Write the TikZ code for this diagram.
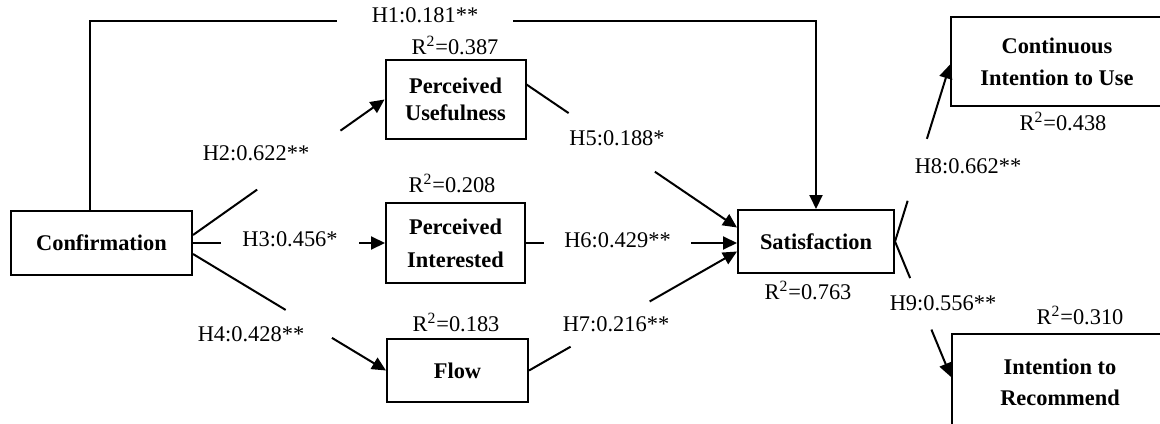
\documentclass[tikz,border=0pt]{standalone}
\usepackage{fontspec}
\setmainfont{Liberation Serif}
\usetikzlibrary{arrows.meta, calc, positioning}
\tikzstyle{arrow} = [line width=1pt, -{Triangle[length=7pt, width=6.5pt]}]
\tikzstyle{construct} = [rectangle, draw = black, line width=1pt, inner sep=0pt, align=center, font=\fontsize{11.2}{13}\selectfont\bfseries]
\tikzstyle{coef} = [inner sep=1pt, font=\fontsize{11.2}{13}\selectfont]
\tikzstyle{gap} = [coef, fill=white, inner ysep=2pt]
\tikzstyle{rsq} = [inner sep=1pt, font=\fontsize{11.2}{13}\selectfont]

\begin{document}
\begin{tikzpicture}[x=0.5pt, y=-0.5pt]
\useasboundingbox (0,0) rectangle (1160,423);

% Confirmation construct:
\node(conf)[construct, minimum width=90.5pt, minimum height=32pt] at (101.5,243) {Confirmation};

% Perceived constructs and Flow:
\node(pi)[construct, right of=conf, node distance=177pt, minimum width=69.5pt, minimum height=40pt]
{Perceived\\[3.5pt]Interested};
\node(pu)[construct, above of=pi, node distance=71.75pt, minimum width=70pt, minimum height=39.5pt]
{Perceived\\[0.5pt]Usefulness};
\node(flow)[construct, below of=pi, node distance=63.75pt, xshift=1pt, minimum width=70.5pt, minimum height=31.5pt]
{Flow};

% Satisfaction:
\node(sat)[construct, right of=pi, node distance=180.25pt, yshift=0.75pt, minimum width=78pt, minimum height=31.5pt]
{Satisfaction};

% Outcomes:
\node(ciu)[construct, right of=sat, node distance=120.5pt, yshift=90pt, minimum width=106pt, minimum height=44.5pt]
{Continuous\\[3pt]Intention to Use};
\node(itr)[construct, right of=sat, node distance=122pt, yshift=-70.25pt, minimum width=108pt, minimum height=48pt]
{Intention to\\[2.5pt]Recommend};

% Paths:
\draw[arrow] ([xshift=-6pt]conf.north) |- ([yshift=19pt]pu.north) -| (sat.north);

\coordinate (h2s) at ([yshift=4pt]conf.east);
\draw[arrow] (h2s) -- ($(h2s)!0.335!(pu.west)$) ($(h2s)!0.77!(pu.west)$) -- (pu.west);

\draw[arrow] (conf.east) -- (pi.west);

\coordinate (h4s) at ([yshift=-5.5pt]conf.east);
\draw[arrow] (h4s) -- ($(h4s)!0.48!(flow.west)$) ($(h4s)!0.72!(flow.west)$) -- (flow.west);

\coordinate (h5s) at ([yshift=7.5pt]pu.east);
\coordinate (h5e) at ([yshift=7pt]sat.west);
\draw[arrow] (h5s) -- ($(h5s)!0.2!(h5e)$) ($(h5s)!0.61!(h5e)$) -- (h5e);

\draw[arrow] (pi.east) -- (pi.east -| sat.west);

\coordinate (h7e) at ([yshift=-5pt]sat.west);
\draw[arrow] (flow.east) -- ($(flow.east)!0.2!(h7e)$) ($(flow.east)!0.58!(h7e)$) -- (h7e);

\coordinate (h8e) at ([yshift=-1.5pt]ciu.west);
\draw[arrow] (sat.east) -- ($(sat.east)!0.23!(h8e)$) ($(sat.east)!0.58!(h8e)$) -- (h8e);

\coordinate (h9e) at ([yshift=2.5pt]itr.west);
\draw[arrow] (sat.east) -- ($(sat.east)!0.27!(h9e)$) ($(sat.east)!0.65!(h9e)$) -- (h9e);

% Path coefficients:
\node(h1)[gap, minimum width=88pt] at (425,15) {H1:0.181**};
\node(h2)[coef] at (256,153) {H2:0.622**};
\node(h3)[gap, minimum width=69pt] at (290,239) {H3:0.456*};
\node(h4)[coef] at (251,334) {H4:0.428**};
\node(h5)[coef] at (617,138) {H5:0.188*};
\node(h6)[gap, minimum width=73.5pt] at (617.5,240) {H6:0.429**};
\node(h7)[coef] at (616,324) {H7:0.216**};
\node(h8)[coef] at (968,166) {H8:0.662**};
\node(h9)[coef] at (943,303) {H9:0.556**};

% R-squared values:
\node(r2pu)[rsq] at (455,45) {R\textsuperscript{2}=0.387};
\node(r2pi)[rsq] at (452,183) {R\textsuperscript{2}=0.208};
\node(r2flow)[rsq] at (456,322) {R\textsuperscript{2}=0.183};
\node(r2sat)[rsq] at (808,290) {R\textsuperscript{2}=0.763};
\node(r2ciu)[rsq] at (1063,121) {R\textsuperscript{2}=0.438};
\node(r2itr)[rsq] at (1080,315) {R\textsuperscript{2}=0.310};

\end{tikzpicture}
\end{document}
